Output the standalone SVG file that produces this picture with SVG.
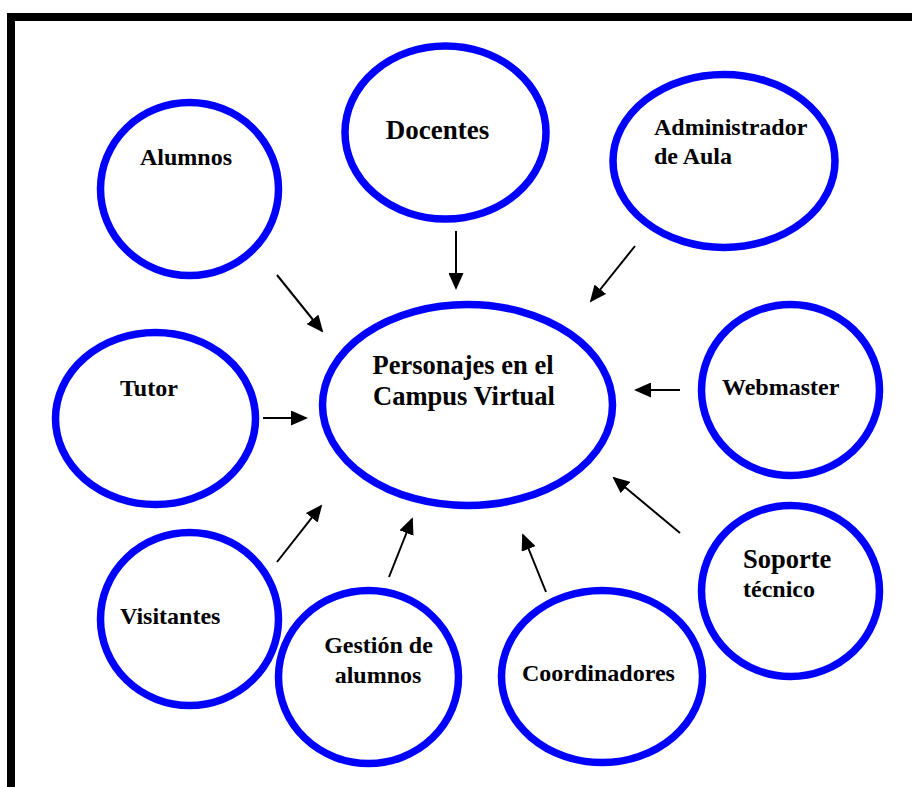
<svg xmlns="http://www.w3.org/2000/svg" width="912" height="787" viewBox="0 0 912 787">
  <style>
    .node { fill: #ffffff; stroke: #0000ff; stroke-width: 7.5; }
    .label { font-family: "Liberation Serif", "Times New Roman", serif; font-weight: bold; font-size: 24px; fill: #000000; }
    .conn { stroke: #000000; stroke-width: 2; fill: none; marker-end: url(#arrow); }
  </style>
  <defs>
    <marker id="arrow" markerUnits="userSpaceOnUse" markerWidth="17" markerHeight="15" refX="15" refY="7.5" orient="auto">
      <path d="M0,0 L17,7.5 L0,15 z" fill="#000000"/>
    </marker>
  </defs>

  <rect width="912" height="787" fill="#ffffff"/>

  <!-- frame: top and left edges -->
  <rect x="7" y="13" width="905" height="8" fill="#000000"/>
  <rect x="7" y="13" width="8" height="774" fill="#000000"/>

  <g id="central">
    <ellipse class="node" cx="467.5" cy="405" rx="145" ry="100.5"/>
    <text class="label" style="font-size:26.5px" x="463" y="374" text-anchor="middle">Personajes en el</text>
    <text class="label" style="font-size:26.5px" x="464" y="405" text-anchor="middle">Campus Virtual</text>
  </g>

  <g id="alumnos">
    <ellipse class="node" cx="189.5" cy="189" rx="89" ry="86.5"/>
    <text class="label" x="186" y="165" text-anchor="middle">Alumnos</text>
  </g>

  <g id="docentes">
    <ellipse class="node" cx="445.5" cy="132.5" rx="100.5" ry="86.5"/>
    <text class="label" style="font-size:27px" x="437.5" y="139" text-anchor="middle">Docentes</text>
  </g>

  <g id="administrador">
    <ellipse class="node" cx="724" cy="161" rx="111" ry="86.5"/>
    <text class="label" x="654" y="135">Administrador</text>
    <text class="label" x="654" y="164">de Aula</text>
  </g>

  <g id="tutor">
    <ellipse class="node" cx="155.5" cy="418.5" rx="100" ry="86"/>
    <text class="label" x="120" y="396">Tutor</text>
  </g>

  <g id="webmaster">
    <ellipse class="node" cx="790.5" cy="390" rx="89" ry="85.5"/>
    <text class="label" x="722" y="395">Webmaster</text>
  </g>

  <g id="visitantes">
    <ellipse class="node" cx="189.5" cy="619" rx="89" ry="86.5"/>
    <text class="label" x="120" y="624">Visitantes</text>
  </g>

  <g id="gestion">
    <ellipse class="node" cx="368.5" cy="677" rx="90" ry="86.5"/>
    <text class="label" x="378.5" y="653" text-anchor="middle">Gestión de</text>
    <text class="label" x="378" y="683" text-anchor="middle">alumnos</text>
  </g>

  <g id="coordinadores">
    <ellipse class="node" cx="602" cy="676.5" rx="100.5" ry="86"/>
    <text class="label" x="522" y="681">Coordinadores</text>
  </g>

  <g id="soporte">
    <ellipse class="node" cx="790.5" cy="591" rx="89" ry="85.5"/>
    <text class="label" style="font-size:26.5px" x="743" y="568">Soporte</text>
    <text class="label" x="743" y="597">técnico</text>
  </g>

  <g id="connectors">
    <line class="conn" x1="277" y1="275" x2="322" y2="331"/>
    <line class="conn" x1="456" y1="231" x2="456" y2="288"/>
    <line class="conn" x1="635" y1="246" x2="591" y2="301"/>
    <line class="conn" x1="263" y1="418" x2="306" y2="418"/>
    <line class="conn" x1="680" y1="390" x2="636" y2="390"/>
    <line class="conn" x1="680" y1="533" x2="614" y2="478"/>
    <line class="conn" x1="546" y1="592" x2="523" y2="535"/>
    <line class="conn" x1="389" y1="577" x2="412" y2="519"/>
    <line class="conn" x1="277" y1="562" x2="321" y2="506"/>
  </g>
</svg>
